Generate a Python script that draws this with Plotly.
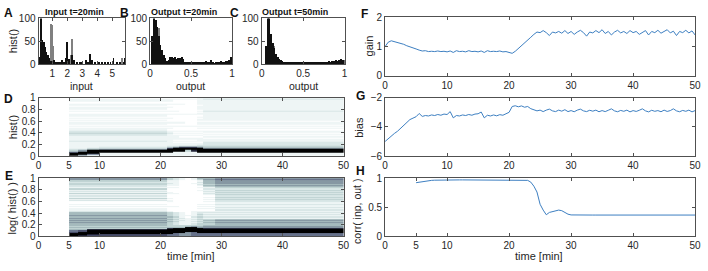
import plotly.graph_objects as go

W, H = 708, 271

# ---------------- data ----------------
# A: input histogram (t = 20 min)
input_black_x = [0.16,0.21,0.26,0.31,0.36,0.41,0.46,0.51,0.56,0.61,0.66,0.71,0.76,0.81,0.86,1.08,1.14,1.22,1.33,1.46,1.6,1.75,
                 1.87,1.92,1.97,2.06,2.31,2.36,2.45,2.6,2.8,2.95,3.2,3.35,3.5,3.6,3.8,4.1,4.3,4.5,4.7,4.85,5.05,5.3,5.5,5.75,5.85]
input_black_h = [15,110,45,52,30,48,20,37,25,12,20,8,12,5,6,8,4,5,3,5,8,4,
                 12,48,20,10,20,9,8,5,3,5,8,4,22,8,4,3,2,3,3,5,13,4,3,5,13]
input_gray_x = [0.44, 0.88, 0.96, 1.03, 2.2, 2.27, 3.45, 5.62]
input_gray_h = [35, 88, 84, 38, 20, 55, 10, 12]

# B / C: output histograms, 50 bins on [0, 1]
out_bins = [0.01 + 0.02 * i for i in range(50)]
out20_h = [0,60,110,95,80,60,42,30,20,12,7,8,14,16,13,15,11,13,12,14,
           10,4,3,4,3,4,3,5,3,4,4,5,3,4,6,5,3,8,2,1,5,3,4,6,5,4,7,6,9,15]
out20_gray_x = [0.11]
out20_gray_h = [79]
out50_h = [0,0,40,110,105,65,45,35,22,15,10,8,6,5,4,5,3,4,3,4,
           3,2,3,2,3,2,2,3,2,2,3,2,3,3,4,3,5,4,5,4,6,5,7,6,8,7,9,10,8,9]
out50_gray_x = [0.11, 0.15]
out50_gray_h = [50, 40]

# D / E: histogram evolution (each column: 50 bins bottom->top, intensity 0..9)
time_edges = [5, 6.5, 8, 10, 21, 22, 23, 24, 25, 26, 27, 29, 50]
hist_cols = [
    "9996321111" + "1121111" + "22322" + "110101101" + "0101100101" + "101100110",
    "5999521111" + "1121111" + "22322" + "110101101" + "0101100101" + "101100110",
    "2699942111" + "1121111" + "22322" + "110101101" + "0101100101" + "101100110",
    "1119952211" + "1121111" + "22322" + "110101101" + "0101100101" + "101100110",
    "1119997321" + "1111111" + "11211" + "010100100" + "0100100100" + "100100110",
    "1111999521" + "1010111" + "10101" + "000100100" + "0000100100" + "000100010",
    "1111999731" + "1010110" + "10101" + "000100100" + "0000100000" + "000100010",
    "1111399731" + "1010110" + "10101" + "000100000" + "0000100000" + "000000010",
    "1111899731" + "1010110" + "10101" + "000100000" + "0000100000" + "000000010",
    "1119999532" + "1011110" + "10101" + "010101101" + "1010110101" + "110111111",
    "1119995332" + "22111" + "010101101010110" + "11111111211111111121",
    "1119995332" + "22111" + "010101101010110" + "11111111211111111121",
]
loghist_cols = [
    "9997643434" + "45454545444" + "211010100" + "2131213121312" + "23323" + "55",
    "8999743434" + "45454545444" + "211010100" + "2131213121312" + "23323" + "55",
    "7899983434" + "45454545444" + "211010100" + "2131213121312" + "23323" + "55",
    "7799983434" + "45454545444" + "211010100" + "2131213121312" + "23323" + "55",
    "6699998433" + "33434343333" + "100010001" + "1010001100010" + "11211" + "33",
    "6669999433" + "22323232222" + "000010000" + "0000001000010" + "11111" + "22",
    "5559999433" + "11121211111" + "000000000" + "0000000000000" + "00000" + "11",
    "5555999943" + "11111101000" + "000000000" + "0000000000000" + "00000" + "00",
    "6666999953" + "21212121111" + "100000000" + "0000000000000" + "00100" + "11",
    "6669999543" + "32323232322" + "101010100" + "0000000001010" + "12121" + "34",
    "6669998554" + "34343" + "121212101010101" + "010101212121" + "34344454",
    "6669998554" + "45454" + "121212121211212" + "232323232323" + "45455565",
]

# F, G: gain and bias over time
t_half = [0.5 * i for i in range(101)]
gain = [1.0,1.15,1.2,1.17,1.15,1.12,1.08,1.03,1.0,0.96,0.92,0.88,0.85,0.86,0.83,0.84,0.83,0.85,0.83,0.84,
        0.82,0.85,0.80,0.86,0.83,0.84,0.82,0.86,0.83,0.84,0.82,0.85,0.80,0.86,0.83,0.84,0.83,0.85,0.82,0.83,
        0.80,0.77,0.84,0.93,1.02,1.12,1.22,1.32,1.42,1.50,1.48,1.55,1.48,1.38,1.50,1.47,1.52,1.46,1.55,1.45,
        1.52,1.42,1.50,1.56,1.48,1.36,1.50,1.47,1.55,1.48,1.58,1.45,1.52,1.40,1.50,1.56,1.47,1.52,1.45,1.55,
        1.48,1.52,1.42,1.50,1.55,1.40,1.52,1.48,1.56,1.46,1.52,1.58,1.47,1.53,1.38,1.52,1.48,1.56,1.47,1.54,1.40]
bias = [-5.0,-4.8,-4.62,-4.45,-4.3,-4.1,-3.9,-3.7,-3.5,-3.4,-3.3,-3.08,-3.28,-3.22,-3.25,-3.18,-3.22,-3.15,-3.2,-3.12,
        -3.15,-2.95,-3.38,-3.22,-3.25,-3.18,-3.22,-3.15,-3.2,-3.12,-3.1,-2.98,-3.38,-3.2,-3.25,-3.18,-3.24,-3.16,-3.2,-3.1,
        -3.0,-2.6,-2.55,-2.62,-2.56,-2.65,-2.6,-2.75,-2.82,-2.9,-2.85,-2.95,-2.85,-2.78,-2.9,-2.95,-2.85,-2.92,-2.82,-2.95,
        -2.88,-2.96,-2.85,-2.78,-2.9,-2.95,-2.86,-2.92,-2.85,-2.96,-2.88,-2.95,-2.86,-2.76,-2.9,-2.96,-2.87,-2.93,-2.85,-2.97,
        -2.88,-2.94,-2.86,-2.76,-2.9,-2.97,-2.86,-2.93,-2.88,-2.96,-2.85,-2.94,-2.88,-2.76,-2.9,-2.96,-2.87,-2.93,-2.85,-2.97,-2.88]

# H: correlation input/output (from t = 5 min)
t_corr = [5 + 0.5 * i for i in range(91)]
corr = [0.92,0.93,0.94,0.95,0.955,0.96,0.963,0.965,0.967,0.968,
        0.968,0.968,0.968,0.968,0.968,0.968,0.968,0.968,0.968,0.968,0.968,0.968,0.968,0.968,0.968,
        0.968,0.968,0.968,0.968,0.968,0.968,0.968,0.968,0.968,0.968,
        0.966,0.96,0.93,0.86,0.76,0.55,0.45,0.37,0.41,0.42,0.44,0.45,0.44,0.41,0.38,0.367,
        0.365,0.365,0.365,0.365,0.365,0.365,0.365,0.365,0.365,0.365,0.365,0.365,0.365,0.365,0.365,0.365,0.365,0.365,0.365,0.365,
        0.365,0.365,0.365,0.365,0.365,0.365,0.365,0.365,0.365,0.365,0.365,0.365,0.365,0.365,0.365,0.365,0.365,0.365,0.365,0.365]

# ---------------- figure ----------------
def dx(a, b):
    return [a / W, b / W]

def dy(top, bottom):
    return [1 - bottom / H, 1 - top / H]

bin_edges = [i / 50 for i in range(51)]

def to_z(cols):
    return [[int(c[i]) for c in cols] for i in range(50)]

shade = ["#ffffff", "#eef5f5", "#d9e7e7", "#c1d4d4", "#a5babd", "#8697a3",
         "#66718a", "#464b67", "#232438", "#000000"]
bone_r = [[i / 9, c] for i, c in enumerate(shade)]
LINE = "#3d7fc1"

fig = go.Figure()
fig.add_trace(go.Bar(x=input_gray_x, y=input_gray_h, width=0.06, marker=dict(color="#808080", line_width=0),
                     xaxis="x", yaxis="y"))
fig.add_trace(go.Bar(x=input_black_x, y=input_black_h, width=0.06, marker=dict(color="#111111", line_width=0),
                     xaxis="x", yaxis="y"))
fig.add_trace(go.Bar(x=out20_gray_x, y=out20_gray_h, width=0.018, marker=dict(color="#808080", line_width=0),
                     xaxis="x2", yaxis="y2"))
fig.add_trace(go.Bar(x=out_bins, y=out20_h, width=0.018, marker=dict(color="#111111", line_width=0),
                     xaxis="x2", yaxis="y2"))
fig.add_trace(go.Bar(x=out50_gray_x, y=out50_gray_h, width=0.018, marker=dict(color="#808080", line_width=0),
                     xaxis="x3", yaxis="y3"))
fig.add_trace(go.Bar(x=out_bins, y=out50_h, width=0.018, marker=dict(color="#111111", line_width=0),
                     xaxis="x3", yaxis="y3"))
fig.add_trace(go.Heatmap(x=time_edges, y=bin_edges, z=to_z(hist_cols), zmin=0, zmax=9,
                         colorscale=bone_r, showscale=False, xaxis="x4", yaxis="y4"))
fig.add_trace(go.Heatmap(x=time_edges, y=bin_edges, z=to_z(loghist_cols), zmin=0, zmax=9,
                         colorscale=bone_r, showscale=False, xaxis="x5", yaxis="y5"))
fig.add_trace(go.Scatter(x=t_half, y=gain, mode="lines", line=dict(color=LINE, width=1),
                         xaxis="x6", yaxis="y6"))
fig.add_trace(go.Scatter(x=t_half, y=bias, mode="lines", line=dict(color=LINE, width=1),
                         xaxis="x7", yaxis="y7"))
fig.add_trace(go.Scatter(x=t_corr, y=corr, mode="lines", line=dict(color=LINE, width=1),
                         xaxis="x8", yaxis="y8"))

def ax(domain, rng, tickvals, ticktext=None, anchor=None):
    d = dict(domain=domain, range=rng, tickvals=tickvals, showline=True, linecolor="#505050", linewidth=1,
             mirror="allticks", ticks="inside", ticklen=3, tickcolor="#505050", showgrid=False,
             zeroline=False, tickfont=dict(size=10, color="#262626"), fixedrange=True)
    if ticktext is not None:
        d["ticktext"] = ticktext
    if anchor:
        d["anchor"] = anchor
    return d

tT = [0, 5, 10, 20, 30, 40, 50]
tF = [0, 10, 20, 30, 40, 50]
RX = 701
layout = dict(
    width=W, height=H, margin=dict(l=0, r=0, t=0, b=0), showlegend=False,
    paper_bgcolor="white", plot_bgcolor="white", barmode="overlay", bargap=0,
    font=dict(family="Liberation Sans, Arial, sans-serif", color="#262626"),
    xaxis=ax(dx(36, 124), [0.08, 5.88], [1, 2, 3, 4, 5], anchor="y"),
    yaxis=ax(dy(13, 61), [0, 100], [0, 50, 100], anchor="x"),
    xaxis2=ax(dx(149, 232), [0, 1], [0, 0.5, 1], anchor="y2"),
    yaxis2=ax(dy(13, 61), [0, 100], [0, 50, 100], anchor="x2"),
    xaxis3=ax(dx(262, 346), [0, 1], [0, 0.5, 1], anchor="y3"),
    yaxis3=ax(dy(13, 61), [0, 100], [0, 50, 100], anchor="x3"),
    xaxis4=ax(dx(36, 345), [0, 50], tT, anchor="y4"),
    yaxis4=ax(dy(96, 157), [0, 1], [0, 0.2, 0.4, 0.6, 0.8, 1], anchor="x4"),
    xaxis5=ax(dx(36, 345), [0, 50], tT, anchor="y5"),
    yaxis5=ax(dy(180, 241), [0, 1], [0, 0.2, 0.4, 0.6, 0.8, 1], anchor="x5"),
    xaxis6=ax(dx(387, RX), [0, 50], tF, anchor="y6"),
    yaxis6=ax(dy(12, 73), [0, 2], [0, 1, 2], anchor="x6"),
    xaxis7=ax(dx(387, RX), [0, 50], tF, anchor="y7"),
    yaxis7=ax(dy(96, 157), [-6, -2], [-6, -4, -2], anchor="x7"),
    xaxis8=ax(dx(387, RX), [0, 50], tT, anchor="y8"),
    yaxis8=ax(dy(180, 241), [0, 1], [0, 0.5, 1], ticktext=["0", "0.5", "1"], anchor="x8"),
)

ann = []
def text(s, x, y, size=11, bold=False, angle=0):
    ann.append(dict(text=("<b>%s</b>" % s) if bold else s, x=x / W, y=1 - y / H, xref="paper", yref="paper",
                    showarrow=False, xanchor="center", yanchor="middle", textangle=angle,
                    font=dict(size=size, color="#111111" if bold else "#262626")))

for lab, x, y in [("A", 6, 7), ("B", 123, 7), ("C", 234, 7), ("D", 6, 97), ("E", 6, 178),
                  ("F", 366, 8), ("G", 362, 94), ("H", 362, 173)]:
    text(lab, x, y, size=12, bold=True)
text("Input t=20min", 72, 6, size=9, bold=True)
text("Output t=20min", 183, 6, size=9, bold=True)
text("Output t=50min", 296, 6, size=9, bold=True)
text("input", 80, 84, size=10.5)
text("output", 190, 84, size=10.5)
text("output", 304, 84, size=10.5)
text("hist()", 11, 37, angle=-90)
text("hist()", 11, 127, angle=-90)
text("log( hist() )", 9, 211, angle=-90)
text("time [min]", 190, 262)
text("time [min]", 543, 262)
text("gain", 371, 42, angle=-90)
text("bias", 361, 127, angle=-90)
text("corr( inp, out )", 359, 215, size=10.5, angle=-90)
layout["annotations"] = ann

fig.update_layout(**layout)
fig.write_html("out.html", config={"displayModeBar": False},
               post_script="document.body.style.margin='0';document.body.style.overflow='hidden';")
